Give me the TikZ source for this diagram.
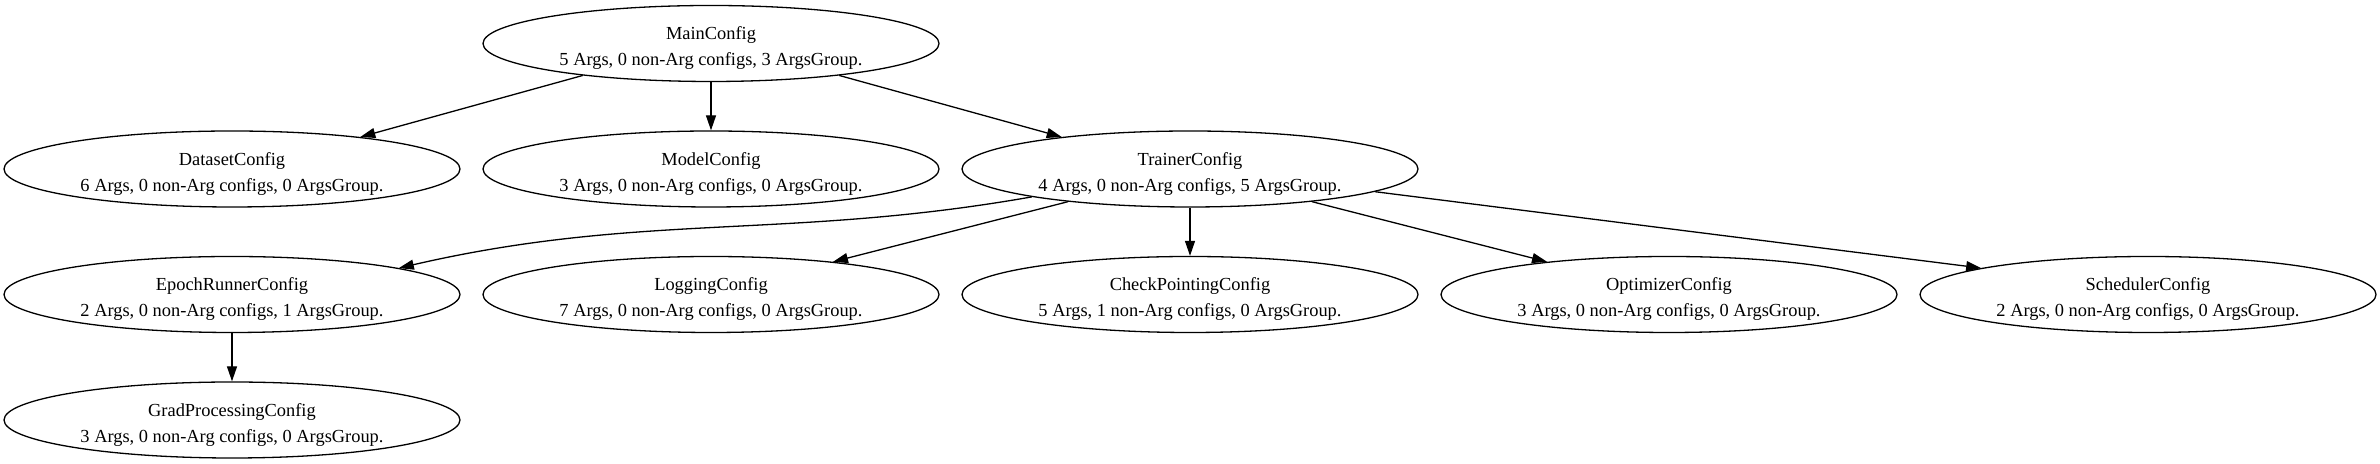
\documentclass[tikz,border=0pt]{standalone}
\usepackage{fontspec}
\setmainfont{Liberation Serif}
\usetikzlibrary{arrows.meta, shapes.geometric}

\begin{document}
\begin{tikzpicture}[x=0.5pt, y=0.5pt]
	\tikzstyle{Node} = [ellipse, draw=black, line width=0.65pt, minimum width=228pt, minimum height=38pt, inner sep=0pt, align=center, font=\fontsize{9.2}{13}\selectfont, execute at begin node=\rule{0pt}{24pt}]
	\tikzstyle{arrow} = [line width=0.65pt, -{Triangle[length=7.5pt, width=5pt]}]
	
	\useasboundingbox (0,0) rectangle (2380,464);
	
	\node (main) [Node] at (711,420.5) {MainConfig\\5 Args, 0 non-Arg configs, 3 ArgsGroup.};
	
	\node (dataset) [Node] at (232,295) {DatasetConfig\\6 Args, 0 non-Arg configs, 0 ArgsGroup.};
	\node (model) [Node] at (711,295) {ModelConfig\\3 Args, 0 non-Arg configs, 0 ArgsGroup.};
	\node (trainer) [Node] at (1190,295) {TrainerConfig\\4 Args, 0 non-Arg configs, 5 ArgsGroup.};
	
	\node (epoch) [Node] at (232,169.5) {EpochRunnerConfig\\2 Args, 0 non-Arg configs, 1 ArgsGroup.};
	\node (logging) [Node] at (711,169.5) {LoggingConfig\\7 Args, 0 non-Arg configs, 0 ArgsGroup.};
	\node (ckpt) [Node] at (1190,169.5) {CheckPointingConfig\\5 Args, 1 non-Arg configs, 0 ArgsGroup.};
	\node (optim) [Node] at (1669,169.5) {OptimizerConfig\\3 Args, 0 non-Arg configs, 0 ArgsGroup.};
	\node (sched) [Node] at (2148,169.5) {SchedulerConfig\\2 Args, 0 non-Arg configs, 0 ArgsGroup.};
	
	\node (grad) [Node] at (232,44) {GradProcessingConfig\\3 Args, 0 non-Arg configs, 0 ArgsGroup.};
	
	\draw [arrow] (main.194) -- (dataset.14);
	\draw [arrow] (main.south) -- (model.north);
	\draw [arrow] (main.346) -- (trainer.166);
	
	\draw [arrow] (trainer.190) to[out=190, in=13] (epoch.9);
	\draw [arrow] (trainer.195) -- (logging.15);
	\draw [arrow] (trainer.south) -- (ckpt.north);
	\draw [arrow] (trainer.345) -- (optim.165);
	\draw [arrow] (trainer.353) -- (sched.171);
	
	\draw [arrow] (epoch.south) -- (grad.north);
\end{tikzpicture}
\end{document}
